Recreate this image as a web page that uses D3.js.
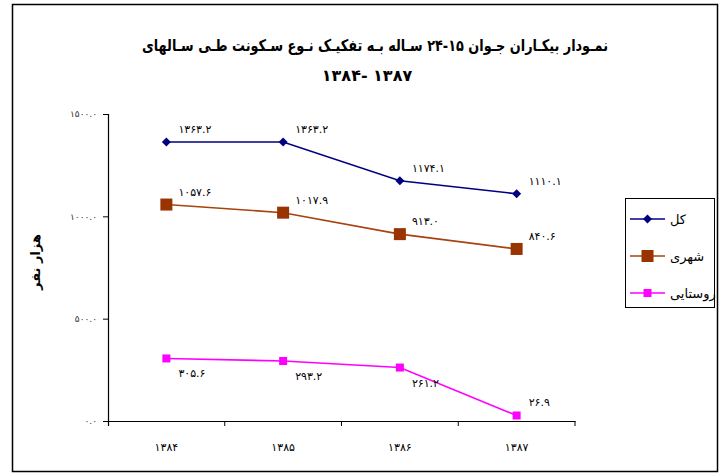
<!DOCTYPE html>
<html>
<head>
<meta charset="utf-8">
<script src="https://cdn.jsdelivr.net/npm/d3@7"></script>
<style>
  body { margin: 0; background: #fff; }
  svg { font-family: "DejaVu Sans", sans-serif; }
</style>
</head>
<body>
<svg id="chart" width="726" height="474"></svg>
<script>
// سالها
const years = ["1384", "1385", "1386", "1387"];

// سری ها
const total = [1363.2, 1363.2, 1174.1, 1110.1];
const urban = [1057.6, 1017.9, 913.0, 840.6];
const rural = [305.6, 293.2, 261.2, 26.9];

const seriesNames = ["کل", "شهری", "روستایی"];
const yTicks = [0, 500, 1000, 1500];

// اعداد فارسی
const faDigits = "۰۱۲۳۴۵۶۷۸۹";
const toFa = (s) => String(s).replace(/[0-9]/g, d => faDigits[+d]);
// ترتیب نمایش چپ به راست
const ltr = (s) => "\u202D" + s + "\u202C";

const width = 726;
const height = 474;

const svg = d3.select("#chart");

// قاب بیرونی
svg.append("rect")
  .attr("x", 12.5).attr("y", 4.5)
  .attr("width", 705).attr("height", 467)
  .attr("fill", "none")
  .attr("stroke", "#000")
  .attr("stroke-width", 1.5);

// عنوان
svg.append("text")
  .attr("x", 375).attr("y", 51)
  .attr("text-anchor", "middle")
  .attr("direction", "rtl")
  .attr("textLength", 466)
  .attr("lengthAdjust", "spacingAndGlyphs")
  .style("font-family", "'DejaVu Sans Condensed', 'DejaVu Sans'")
  .style("font-size", "16px").style("font-weight", "bold")
  .text("نمـودار بیکـاران جـوان " + ltr("۲۴-۱۵") + " سـاله بـه تفکیـک نـوع سـکونت طـی سـالهای");

svg.append("text")
  .attr("x", 367).attr("y", 81)
  .attr("text-anchor", "middle")
  .style("font-size", "16px").style("font-weight", "bold")
  .text(ltr("۱۳۸۴- ۱۳۸۷"));

const x = d3.scaleBand().domain(years).range([108, 575]);
const y = d3.scaleLinear().domain([0, 1500]).range([421, 114]);

// محور افقی
const xAxis = svg.append("g")
  .attr("transform", "translate(0,421)")
  .call(d3.axisBottom(x).tickSize(0).tickFormat(d => ltr(toFa(d))).tickPadding(22));
xAxis.select(".domain").attr("stroke", "#000").attr("stroke-width", 1.2);
xAxis.selectAll("text").style("font-size", "11px").style("font-family", "DejaVu Sans").attr("fill", "#000");

// تیک های بین دسته ها
svg.append("g").selectAll("line")
  .data(years.map(d => x(d) + x.bandwidth()))
  .enter()
  .append("line")
  .attr("x1", d => d).attr("x2", d => d)
  .attr("y1", 421).attr("y2", 426)
  .attr("stroke", "#000");

// محور عمودی
const yAxis = svg.append("g")
  .attr("transform", "translate(108,0)")
  .call(d3.axisLeft(y).tickValues(yTicks).tickSize(5).tickPadding(6)
    .tickFormat(d => ltr(toFa(d.toFixed(1)))));
yAxis.select(".domain").attr("stroke", "#000").attr("stroke-width", 1.2)
  .attr("d", "M-5,114.5H0.5V426");
yAxis.selectAll("line").attr("stroke", "#000");
yAxis.selectAll("text").style("font-size", "9px").style("font-family", "DejaVu Sans").attr("fill", "#333");

svg.append("text")
  .attr("transform", "translate(40,262) rotate(-90)")
  .attr("text-anchor", "middle")
  .style("font-size", "13px").style("font-weight", "bold")
  .text("هزار نفر");

const cx = (i) => x(years[i]) + x.bandwidth() / 2;

const series = [
  { name: seriesNames[0], values: total, color: "#000080", line: "#000080", shape: "diamond", size: 9 },
  { name: seriesNames[1], values: urban, color: "#993300", line: "#a8420f", shape: "square", size: 12 },
  { name: seriesNames[2], values: rural, color: "#ff00ff", line: "#ff00ff", shape: "square", size: 8 }
];

const line = d3.line().x((d, i) => cx(i)).y(d => y(d));

function drawMarker(g, s, px, py) {
  if (s.shape === "diamond") {
    const r = s.size / 2;
    g.append("path")
      .attr("d", `M${px},${py - r}L${px + r},${py}L${px},${py + r}L${px - r},${py}Z`)
      .attr("fill", s.color);
  } else {
    g.append("rect")
      .attr("x", px - s.size / 2).attr("y", py - s.size / 2)
      .attr("width", s.size).attr("height", s.size)
      .attr("fill", s.color);
  }
}

series.forEach((s, si) => {
  const g = svg.append("g");
  g.append("path")
    .datum(s.values)
    .attr("d", line)
    .attr("fill", "none")
    .attr("stroke", s.line)
    .attr("stroke-width", 1.6);
  s.values.forEach((v, i) => drawMarker(g, s, cx(i), y(v)));

  // برچسب مقادیر
  g.selectAll("text")
    .data(s.values)
    .enter()
    .append("text")
    .attr("x", (d, i) => cx(i) + 12)
    .attr("y", (d) => {
      if (si === 2 && d > 100) return y(d) + 19;
      return y(d) - 9;
    })
    .style("font-size", "11px")
    .attr("fill", "#000")
    .text(d => ltr(toFa(d.toFixed(1))));
});

// راهنما
const legend = svg.append("g");
legend.append("rect")
  .attr("x", 625.5).attr("y", 198.5)
  .attr("width", 89).attr("height", 109)
  .attr("fill", "#fff")
  .attr("stroke", "#000");

series.forEach((s, i) => {
  const ly = 219 + i * 37;
  legend.append("line")
    .attr("x1", 630).attr("x2", 665)
    .attr("y1", ly).attr("y2", ly)
    .attr("stroke", s.line).attr("stroke-width", 1.6);
  drawMarker(legend, s, 647.5, ly);
  legend.append("text")
    .attr("x", 670).attr("y", ly + 5)
    .style("font-size", "13px")
    .text(s.name);
});
</script>
</body>
</html>
